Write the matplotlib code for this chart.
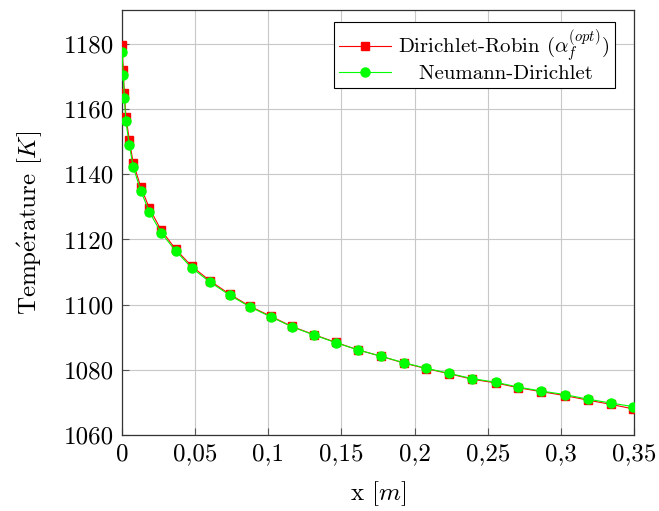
import matplotlib
matplotlib.use("Agg")
import matplotlib.pyplot as plt
from matplotlib.ticker import FuncFormatter

plt.rcParams['font.family'] = ['cmr10', 'DejaVu Serif']
plt.rcParams['mathtext.fontset'] = 'cm'
plt.rcParams['axes.formatter.use_mathtext'] = True

x_vals = [0.0, 0.0009, 0.0016, 0.0027, 0.0050, 0.0077, 0.0128, 0.0187, 0.0267,
          0.0367, 0.0476, 0.0602, 0.0736, 0.0875, 0.1019, 0.1162, 0.1312, 0.1463,
          0.1615, 0.1768, 0.1925, 0.2078, 0.2237, 0.2395, 0.2554, 0.2709, 0.2866,
          0.3028, 0.3185, 0.3343, 0.3495]
neumann_dirichlet = [1177.6, 1170.5, 1163.3, 1156.2, 1149.0, 1142.2, 1135.0, 1128.4,
                     1122.1, 1116.5, 1111.3, 1106.9, 1102.9, 1099.3, 1096.2, 1093.2,
                     1090.7, 1088.3, 1086.1, 1084.2, 1082.2, 1080.5, 1078.9, 1077.3,
                     1076.2, 1074.7, 1073.5, 1072.4, 1071.0, 1069.8, 1068.7]
dirichlet_robin = [1179.6, 1172.0, 1164.9, 1157.7, 1150.5, 1143.4, 1136.2, 1129.6,
                   1122.9, 1117.0, 1111.8, 1107.3, 1103.2, 1099.5, 1096.4, 1093.3,
                   1090.8, 1088.4, 1086.1, 1084.2, 1082.1, 1080.4, 1078.8, 1077.1,
                   1076.0, 1074.5, 1073.3, 1072.1, 1070.7, 1069.4, 1068.0]

x_ticks = [0, 0.05, 0.1, 0.15, 0.2, 0.25, 0.3, 0.35]
y_ticks = [1060, 1080, 1100, 1120, 1140, 1160, 1180]

fig = plt.figure(figsize=(6.59, 5.11), dpi=100)
ax = fig.add_axes([0.1851, 0.1487, 0.7770, 0.8317])

ax.plot(x_vals, dirichlet_robin, color='red', lw=0.8, marker='s', ms=6,
        label=r'Dirichlet-Robin ($\alpha_f^{(opt)}$)', zorder=3)
ax.plot(x_vals, neumann_dirichlet, color='#00ff00', lw=0.8, marker='o', ms=6.5,
        label='   Neumann-Dirichlet', zorder=4)

ax.set_xlim(0, 0.35)
ax.set_ylim(1060, 1190.4)
ax.set_xticks(x_ticks)
ax.set_yticks(y_ticks)
ax.xaxis.set_major_formatter(FuncFormatter(lambda v, p: ('%g' % v).replace('.', ',')))
ax.yaxis.set_major_formatter(FuncFormatter(lambda v, p: '%d' % v))
ax.grid(True, color='#c8c8c8', lw=0.8)
ax.set_axisbelow(True)
ax.tick_params(direction='in', length=5, width=0.8, color='#555555', labelsize=18,
               top=False, right=False, pad=6)
for s in ax.spines.values():
    s.set_linewidth(0.9)
    s.set_color('#333333')

ax.set_xlabel(r'x [$m$]', fontsize=18, labelpad=10)
ax.set_ylabel(r'Temp$\mathrm{\acute{e}}$rature [$K$]', fontsize=18, labelpad=14)

leg = ax.legend(loc='upper right', fontsize=15, frameon=True, fancybox=False,
                edgecolor='black', framealpha=1, borderpad=0.25, handlelength=2.5,
                handletextpad=0.35, labelspacing=0.02, borderaxespad=0,
                bbox_to_anchor=(0.9625, 0.971))
leg.get_frame().set_linewidth(0.8)

fig.savefig('out.png', dpi=100)
